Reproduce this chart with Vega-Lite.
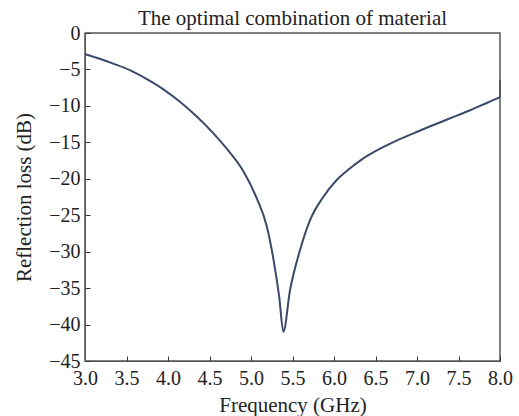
{
  "$schema": "https://vega.github.io/schema/vega-lite/v6.json",
  "width": 415,
  "height": 328,
  "autosize": {"type": "none"},
  "padding": {"left": 85, "top": 33, "right": 19, "bottom": 55},
  "background": "white",
  "title": {"text": "The optimal combination of material", "font": "Liberation Serif", "fontSize": 21, "fontWeight": "normal", "color": "#222", "offset": -6},
  "config": {
    "view": {"stroke": "#555", "strokeWidth": 1.5},
    "axis": {"labelFont": "Liberation Serif", "titleFont": "Liberation Serif", "labelFontSize": 20, "titleFontSize": 21, "titleFontWeight": "normal", "labelColor": "#222", "titleColor": "#222", "grid": false, "domainColor": "#555", "tickColor": "#333", "tickSize": -5, "domain": true, "labelOverlap": false, "labelFlush": false}
  },
  "encoding": {
    "x": {"field": "f", "type": "quantitative", "title": "Frequency (GHz)", "scale": {"domain": [3, 8], "nice": false}, "axis": {"values": [3, 3.5, 4, 4.5, 5, 5.5, 6, 6.5, 7, 7.5, 8], "format": ".1f", "labelPadding": 12, "titleY": 33}},
    "y": {"field": "rl", "type": "quantitative", "title": "Reflection loss (dB)", "scale": {"domain": [-45, 0], "nice": false}, "axis": {"values": [-45, -40, -35, -30, -25, -20, -15, -10, -5, 0], "labelPadding": 10, "titleX": -51}}
  },
  "layer": [
    {
      "data": {"values": [
        {"f": 3.0, "rl": -2.9},
        {"f": 3.14, "rl": -3.4},
        {"f": 3.34, "rl": -4.2},
        {"f": 3.54, "rl": -5.1},
        {"f": 3.74, "rl": -6.3},
        {"f": 3.94, "rl": -7.7},
        {"f": 4.14, "rl": -9.4},
        {"f": 4.35, "rl": -11.5},
        {"f": 4.55, "rl": -13.8},
        {"f": 4.71, "rl": -15.9},
        {"f": 4.91, "rl": -19.0},
        {"f": 5.07, "rl": -22.7},
        {"f": 5.19, "rl": -26.5},
        {"f": 5.27, "rl": -31.0},
        {"f": 5.34, "rl": -36.2},
        {"f": 5.39, "rl": -41.0},
        {"f": 5.47, "rl": -35.3},
        {"f": 5.59, "rl": -29.8},
        {"f": 5.71, "rl": -25.7},
        {"f": 5.87, "rl": -22.5},
        {"f": 6.03, "rl": -20.2},
        {"f": 6.19, "rl": -18.6},
        {"f": 6.34, "rl": -17.3},
        {"f": 6.55, "rl": -15.9},
        {"f": 6.75, "rl": -14.8},
        {"f": 6.95, "rl": -13.8},
        {"f": 7.16, "rl": -12.8},
        {"f": 7.40, "rl": -11.7},
        {"f": 7.64, "rl": -10.6},
        {"f": 7.84, "rl": -9.6},
        {"f": 8.0, "rl": -8.8}
      ]},
      "mark": {"type": "line", "color": "#3b4a6a", "strokeWidth": 2, "interpolate": "monotone", "clip": true}
    },
    {
      "data": {"values": [{"f": 8.0, "rl": -8.8, "rl2": -6.4}]},
      "mark": {"type": "rule", "color": "#444", "strokeWidth": 1.5},
      "encoding": {
        "y2": {"field": "rl2"}
      }
    }
  ]
}
